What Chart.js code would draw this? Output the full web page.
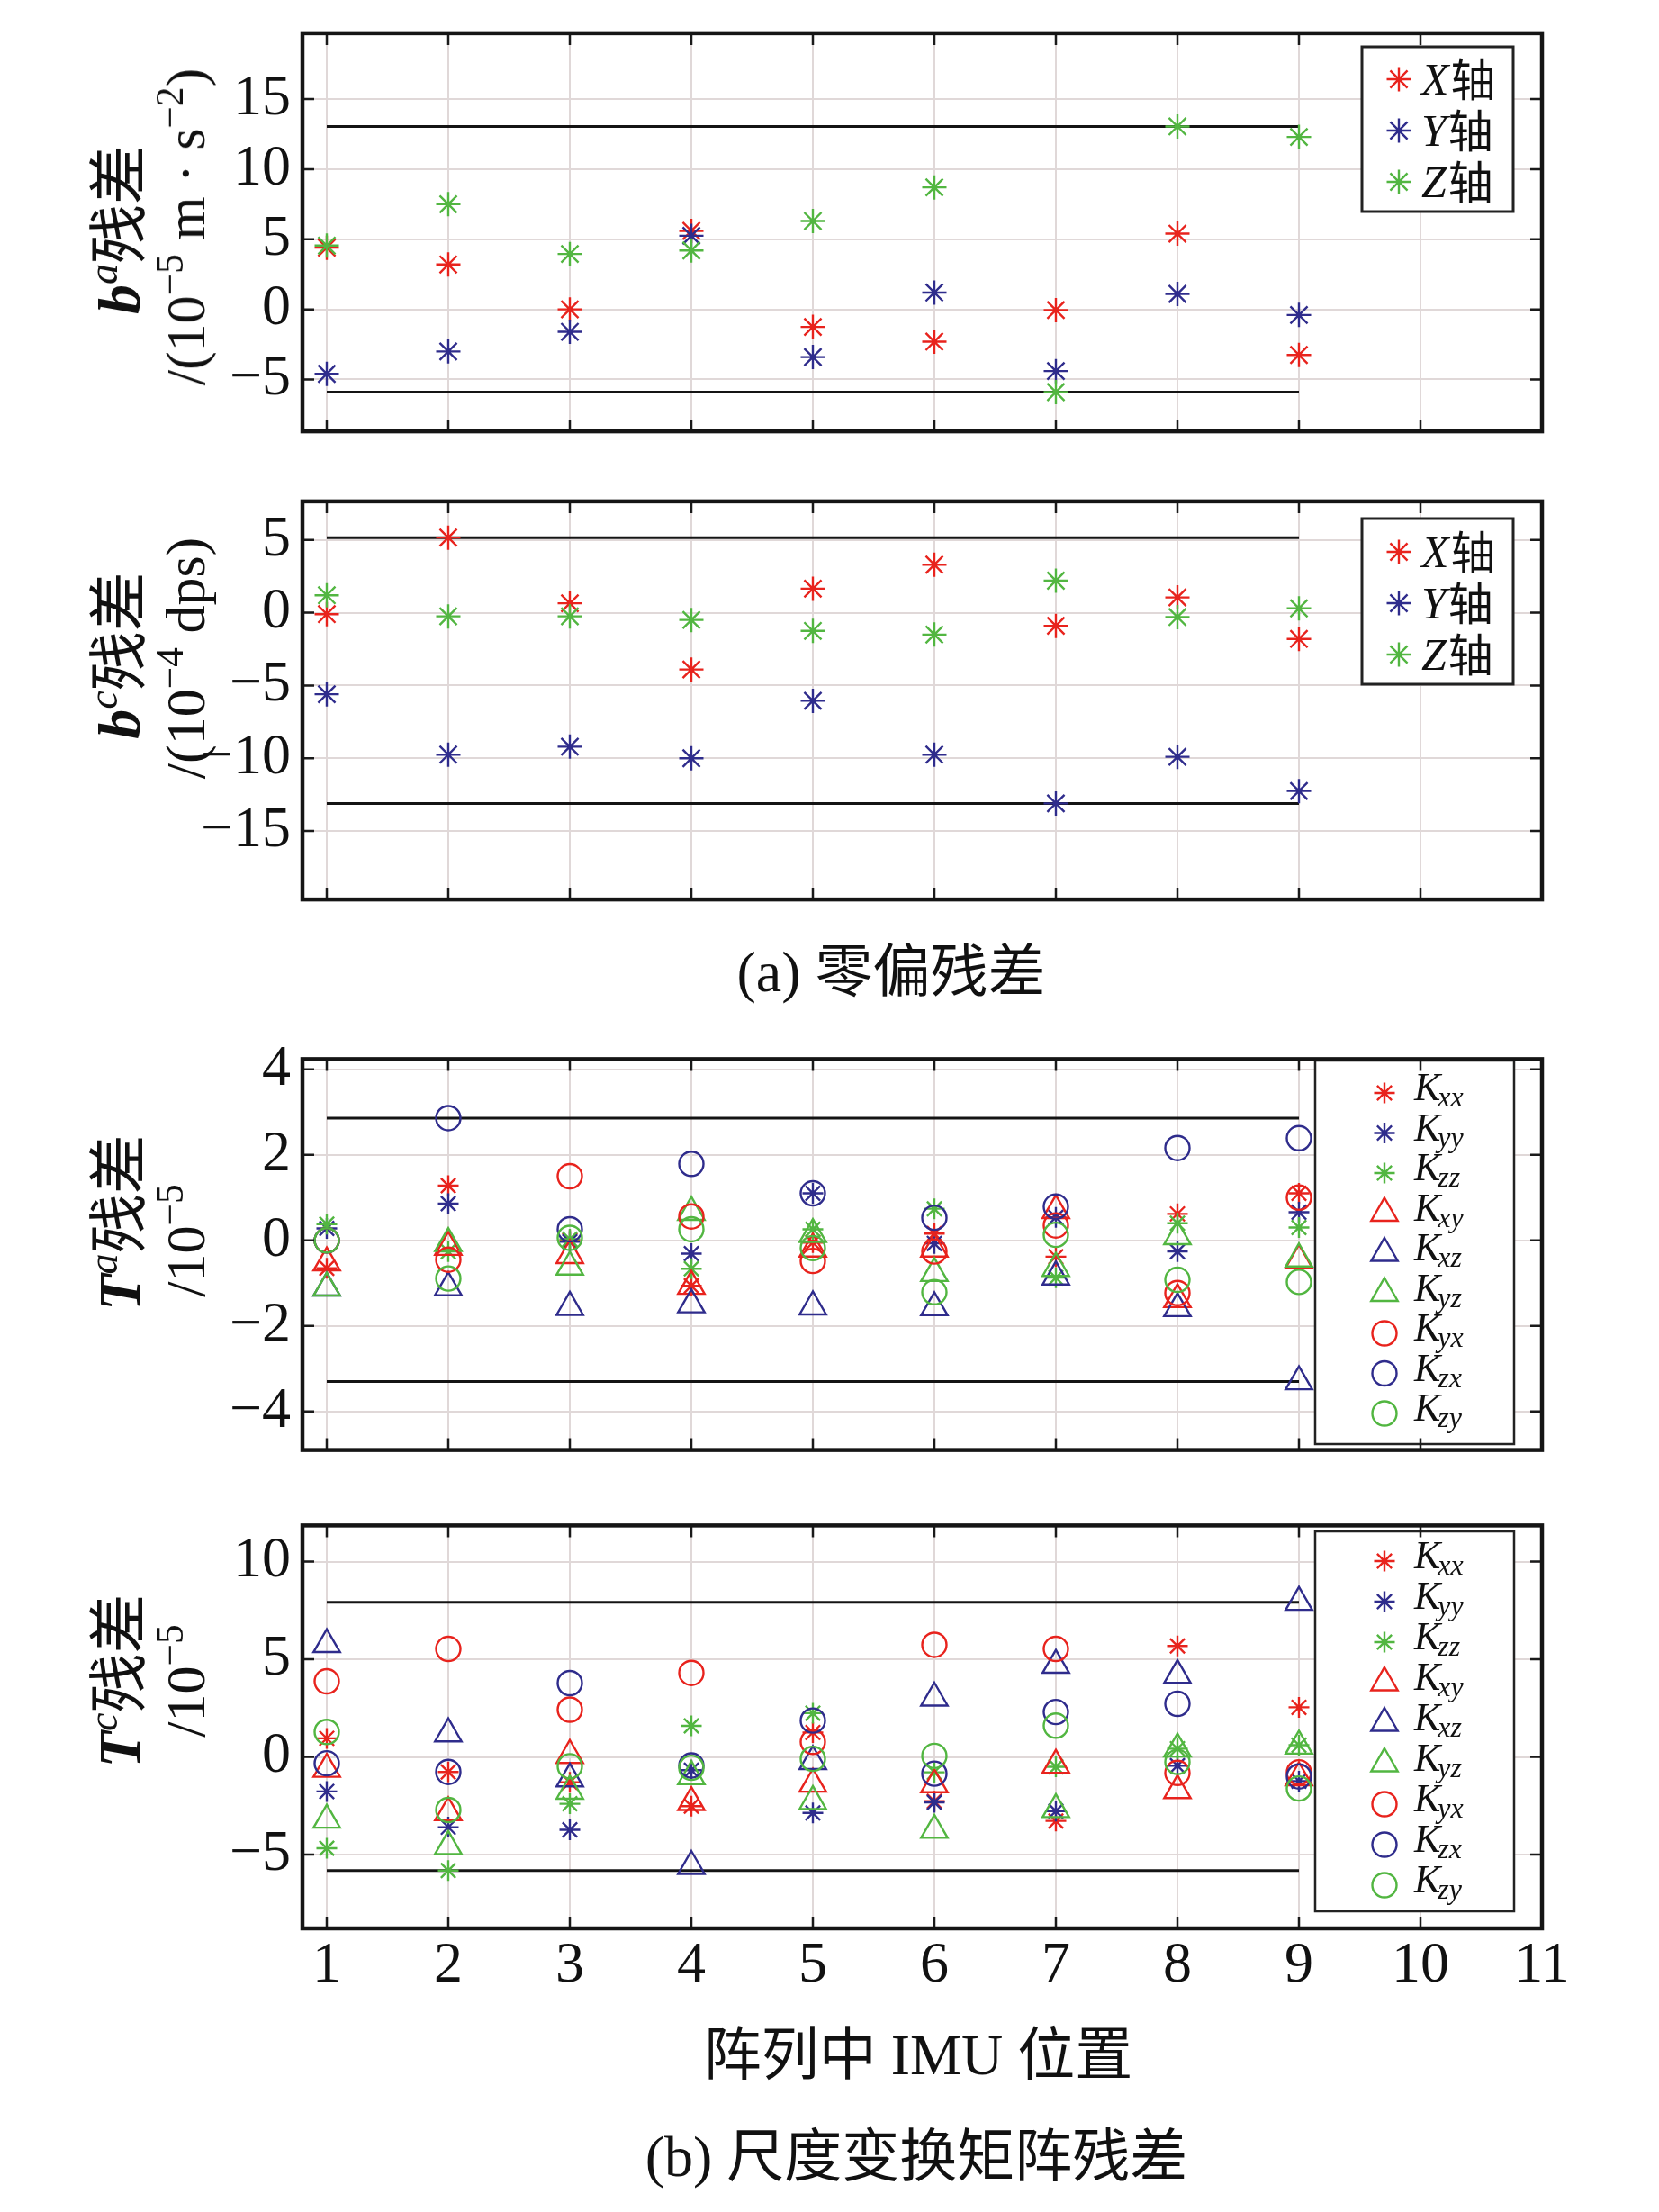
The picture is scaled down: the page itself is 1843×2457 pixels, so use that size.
<!DOCTYPE html>
<html>
<head>
<meta charset="utf-8">
<script src="https://cdn.jsdelivr.net/npm/chart.js@4.4.1/dist/chart.umd.min.js"></script>
<style>
  html, body { margin: 0; padding: 0; background: #fff; }
  body { width: 1843px; height: 2457px; position: relative; overflow: hidden; }
  canvas { position: absolute; left: 0; }
  .ytitle { position: absolute; white-space: nowrap; transform: translate(-50%, -50%) rotate(-90deg);
            font-family: 'Liberation Serif', 'Noto Sans CJK SC', serif; font-size: 62px; color: #111; line-height: 1; }
  .ytitle.big { font-size: 66px; }
  .ytitle sup { font-size: 0.7em; vertical-align: 0.55em; line-height: 0; }
  .caption { position: absolute; white-space: nowrap; transform: translate(-50%, -50%);
             font-family: 'Liberation Serif', 'Noto Sans CJK SC', serif; font-size: 64px; color: #111; line-height: 1; }
</style>
</head>
<body>
<canvas id="c1" width="1843" height="474" style="top:21px"></canvas>
<canvas id="c2" width="1843" height="474" style="top:541px"></canvas>
<canvas id="c3" width="1843" height="473" style="top:1157px"></canvas>
<canvas id="c4" width="1843" height="574" style="top:1675px"></canvas>

<div class="ytitle big" style="left:133px;top:255px"><b><i>b</i></b><sup><i>a</i></sup>残差</div>
<div class="ytitle" style="left:206px;top:252px">/(10<sup>−5</sup> m · s<sup>−2</sup>)</div>
<div class="ytitle big" style="left:133px;top:728px"><b><i>b</i></b><sup><i>c</i></sup>残差</div>
<div class="ytitle" style="left:206px;top:731px">/(10<sup>−4</sup> dps)</div>
<div class="ytitle big" style="left:133px;top:1358px"><b><i>T</i></b><sup><i>a</i></sup>残差</div>
<div class="ytitle" style="left:206px;top:1378px">/10<sup>−5</sup></div>
<div class="ytitle big" style="left:133px;top:1867px"><b><i>T</i></b><sup><i>c</i></sup>残差</div>
<div class="ytitle" style="left:206px;top:1867px">/10<sup>−5</sup></div>

<div class="caption" style="left:990px;top:1080px">(a) 零偏残差</div>
<div class="caption" style="left:1020px;top:2283px">阵列中 IMU 位置</div>
<div class="caption" style="left:1018px;top:2396px">(b) 尺度变换矩阵残差</div>

<script>
// IMU positions in the array and x tick labels
const positions = [1, 2, 3, 4, 5, 6, 7, 8, 9];
const xTicks = [1, 2, 3, 4, 5, 6, 7, 8, 9, 10, 11];

// (a) accelerometer bias residual, 1e-5 m/s^2
const baX = [4.4, 3.2, 0.0, 5.6, -1.25, -2.3, -0.05, 5.4, -3.25];
const baY = [-4.6, -3.0, -1.6, 5.25, -3.4, 1.2, -4.4, 1.1, -0.4];
const baZ = [4.55, 7.5, 3.95, 4.2, 6.3, 8.7, -5.9, 13.05, 12.3];
const baTicks = [-5, 0, 5, 10, 15];

// (a) gyro bias residual, 1e-4 dps
const bcX = [-0.1, 5.16, 0.65, -3.9, 1.65, 3.3, -0.9, 1.05, -1.8];
const bcY = [-5.6, -9.75, -9.2, -10.0, -6.05, -9.75, -13.1, -9.9, -12.25];
const bcZ = [1.2, -0.25, -0.25, -0.5, -1.25, -1.5, 2.2, -0.3, 0.3];
const bcTicks = [-15, -10, -5, 0, 5];

// (b) accelerometer scale matrix residual, 1e-5
const taKxx = [-0.65, 1.28, 0.0, -1.06, -0.05, 0.16, -0.38, 0.62, 1.1];
const taKyy = [0.28, 0.86, -0.03, -0.31, 1.1, -0.07, 0.54, -0.26, 0.66];
const taKzz = [0.38, -0.26, 0.03, -0.66, 0.26, 0.74, -0.87, 0.4, 0.3];
const taKxy = [-0.52, -0.16, -0.35, -1.07, -0.2, -0.2, 0.7, -1.38, -0.46];
const taKxz = [-1.11, -1.1, -1.56, -1.5, -1.55, -1.57, -0.85, -1.59, -3.3];
const taKyz = [-1.11, -0.07, -0.62, 0.66, 0.14, -0.77, -0.65, 0.09, -0.43];
const taKyx = [0.0, -0.45, 1.5, 0.56, -0.48, -0.26, 0.35, -1.23, 1.0];
const taKzx = [0.0, 2.86, 0.26, 1.79, 1.1, 0.53, 0.79, 2.16, 2.39];
const taKzy = [0.0, -0.89, 0.06, 0.26, -0.18, -1.21, 0.13, -0.92, -0.97];
const taTicks = [-4, -2, 0, 2, 4];

// (b) gyro scale matrix residual, 1e-5
const tcKxx = [0.95, -0.77, -1.3, -2.52, 1.25, -2.27, -3.28, 5.68, 2.54];
const tcKyy = [-1.77, -3.6, -3.73, -0.68, -2.87, -2.33, -2.78, -0.45, -1.24];
const tcKzz = [-4.68, -5.82, -2.4, 1.59, 2.24, -0.79, -0.51, 0.42, 0.6];
const tcKxy = [-0.63, -2.85, 0.08, -2.33, -1.39, -1.42, -0.42, -1.72, -1.06];
const tcKxz = [5.76, 1.19, -1.12, -5.6, -0.23, 3.02, 4.7, 4.18, 7.92];
const tcKyz = [-3.23, -4.58, -1.75, -1.0, -2.28, -3.75, -2.69, 0.41, 0.56];
const tcKyx = [3.87, 5.53, 2.42, 4.3, 0.77, 5.74, 5.53, -0.82, -0.79];
const tcKzx = [-0.33, -0.77, 3.78, -0.44, 1.86, -0.86, 2.3, 2.72, -1.0];
const tcKzy = [1.28, -2.72, -0.48, -0.56, -0.1, 0.05, 1.6, -0.26, -1.62];
const tcTicks = [-5, 0, 5, 10];

const axisNames = ['X', 'Y', 'Z'];
const kSubs = ['xx', 'yy', 'zz', 'xy', 'xz', 'yz', 'yx', 'zx', 'zy'];

const RED = '#e8231d', BLUE = '#2f2c8c', GREEN = '#52b641';
const colors = [RED, BLUE, GREEN];
const gridColor = '#e0d8d8';
const serif = '"Liberation Serif", "Times New Roman", serif';

// frame with inward ticks on all four sides, like the original figure
const matlabFrame = {
    id: 'matlabFrame',
    afterDatasetsDraw(chart) {
        const ctx = chart.ctx, a = chart.chartArea;
        const x = chart.scales.x, y = chart.scales.y;
        const tl = 13;
        ctx.save();
        ctx.strokeStyle = '#1a1a1a';
        ctx.lineWidth = 2.5;
        ctx.beginPath();
        x.ticks.forEach(t => {
            const px = x.getPixelForValue(t.value);
            ctx.moveTo(px, a.bottom); ctx.lineTo(px, a.bottom - tl);
            ctx.moveTo(px, a.top); ctx.lineTo(px, a.top + tl);
        });
        y.ticks.forEach(t => {
            const py = y.getPixelForValue(t.value);
            ctx.moveTo(a.left, py); ctx.lineTo(a.left + tl, py);
            ctx.moveTo(a.right, py); ctx.lineTo(a.right - tl, py);
        });
        ctx.stroke();
        ctx.lineWidth = 4.5;
        ctx.strokeStyle = '#151515';
        ctx.strokeRect(a.left, a.top, a.right - a.left, a.bottom - a.top);
        ctx.restore();
    }
};

// boxed legend with italic names and subscripts
const boxLegend = {
    id: 'boxLegend',
    afterDatasetsDraw(chart, args, o) {
        if (!o || !o.box) return;
        const ctx = chart.ctx;
        const [x0, y0, x1, y1] = o.box;
        ctx.save();
        ctx.fillStyle = '#fff';
        ctx.fillRect(x0, y0, x1 - x0, y1 - y0);
        ctx.lineWidth = o.border;
        ctx.strokeStyle = '#222';
        ctx.strokeRect(x0, y0, x1 - x0, y1 - y0);
        const items = chart.data.datasets.filter(d => d.legendMain);
        items.forEach((d, i) => {
            const cy = o.row0 + i * o.rowStep;
            ctx.strokeStyle = d.borderColor;
            ctx.fillStyle = 'rgba(0,0,0,0)';
            ctx.lineWidth = d.pointBorderWidth;
            Chart.helpers.drawPoint(ctx, {
                pointStyle: d.pointStyle, rotation: 0,
                radius: d.pointRadius, borderWidth: d.pointBorderWidth
            }, o.markerX, cy);
            ctx.fillStyle = '#111';
            ctx.textBaseline = 'alphabetic';
            ctx.font = 'italic ' + o.fontSize + 'px ' + serif;
            ctx.fillText(d.legendMain, o.textX, cy + o.baseOff);
            const w = ctx.measureText(d.legendMain).width;
            if (d.legendCjk) {
                ctx.font = o.fontSize + 'px "Noto Sans CJK SC"';
                ctx.fillText(d.legendCjk, o.textX + w + 2, cy + o.baseOff + 2);
            } else if (d.legendSub) {
                ctx.font = 'italic ' + o.subSize + 'px ' + serif;
                ctx.fillText(d.legendSub, o.textX + w - 3, cy + o.baseOff + 7);
            }
        });
        ctx.restore();
    }
};

function toPoints(vals) {
    return positions.map((p, i) => ({ x: p, y: vals[i] }));
}

function boundLines(series) {
    const all = [].concat(...series);
    const hi = Math.max(...all), lo = Math.min(...all);
    const first = positions[0], last = positions[positions.length - 1];
    return [hi, lo].map(v => ({
        data: [{ x: first, y: v }, { x: last, y: v }],
        showLine: true, borderColor: '#141414', borderWidth: 3,
        pointRadius: 0, order: 100
    }));
}

function fmt(v) {
    return v < 0 ? '\u2212' + Math.abs(v) : String(v);
}

function noPad(s) {
    s.paddingTop = 0; s.paddingBottom = 0; s.paddingLeft = 0; s.paddingRight = 0;
}

function makeChart(id, datasets, yMin, yMax, yTicks, showX, legend) {
    const ctx = document.getElementById(id).getContext('2d');
    return new Chart(ctx, {
        type: 'scatter',
        data: { datasets: datasets },
        options: {
            responsive: false,
            animation: false,
            devicePixelRatio: 1,
            layout: { padding: { left: 0, right: 130, top: showX ? 4 : 7, bottom: showX ? 0 : 4 } },
            plugins: {
                legend: { display: false },
                tooltip: { enabled: false },
                boxLegend: legend
            },
            scales: {
                x: {
                    type: 'linear', min: 0.8, max: 11,
                    afterBuildTicks: s => { s.ticks = xTicks.map(v => ({ value: v })); },
                    afterFit: s => { s.height = showX ? 107 : 0; noPad(s); },
                    grid: { color: gridColor, lineWidth: 2, drawTicks: false },
                    border: { display: false },
                    ticks: { display: showX, color: '#111', padding: 4, maxRotation: 0,
                             font: { family: serif, size: 64 }, callback: fmt }
                },
                y: {
                    type: 'linear', min: yMin, max: yMax,
                    afterBuildTicks: s => { s.ticks = yTicks.map(v => ({ value: v })); },
                    afterFit: s => { s.width = 336; noPad(s); },
                    grid: { color: gridColor, lineWidth: 2, drawTicks: false },
                    border: { display: false },
                    ticks: { color: '#111', padding: 13,
                             font: { family: serif, size: 64 }, callback: fmt }
                }
            }
        },
        plugins: [boxLegend, matlabFrame]
    });
}

function axisSets(series) {
    return series.map((vals, i) => ({
        data: toPoints(vals),
        pointStyle: 'star', pointRadius: 13.5, pointBorderWidth: 2.4,
        borderColor: colors[i], pointBackgroundColor: 'rgba(0,0,0,0)',
        legendMain: axisNames[i], legendCjk: '轴', order: -i
    }));
}

function kSets(series) {
    const styles = ['star', 'triangle', 'circle'];
    const radii = [11.5, 17, 13.5];
    return series.map((vals, i) => {
        const g = Math.floor(i / 3);
        return {
            data: toPoints(vals),
            pointStyle: styles[g], pointRadius: radii[g], pointBorderWidth: 2.4,
            borderColor: colors[i % 3], pointBackgroundColor: 'rgba(0,0,0,0)',
            legendMain: 'K', legendSub: kSubs[i], order: -i
        };
    });
}

// (a) top: accelerometer bias
const baSeries = [baX, baY, baZ];
makeChart('c1', axisSets(baSeries).concat(boundLines(baSeries)), -8.7, 19.7, baTicks, false,
    { box: [1513, 31, 1681, 214], border: 3, row0: 67, rowStep: 57,
      markerX: 1554, textX: 1579, fontSize: 50, baseOff: 17 });

// (a) bottom: gyro bias
const bcSeries = [bcX, bcY, bcZ];
makeChart('c2', axisSets(bcSeries).concat(boundLines(bcSeries)), -19.7, 7.65, bcTicks, false,
    { box: [1513, 35, 1681, 219], border: 3, row0: 72, rowStep: 57,
      markerX: 1554, textX: 1579, fontSize: 50, baseOff: 17 });

// (b) top: accelerometer scale matrix
const taSeries = [taKxx, taKyy, taKzz, taKxy, taKxz, taKyz, taKyx, taKzx, taKzy];
makeChart('c3', kSets(taSeries).concat(boundLines(taSeries)), -4.9, 4.24, taTicks, false,
    { box: [1461, 21, 1682, 447], border: 2.5, row0: 57, rowStep: 44.5,
      markerX: 1538, textX: 1571, fontSize: 44, subSize: 32, baseOff: 8 });

// (b) bottom: gyro scale matrix
const tcSeries = [tcKxx, tcKyy, tcKzz, tcKxy, tcKxz, tcKyz, tcKyx, tcKzx, tcKzy];
makeChart('c4', kSets(tcSeries).concat(boundLines(tcSeries)), -8.78, 11.85, tcTicks, true,
    { box: [1461, 26, 1682, 448], border: 2.5, row0: 59, rowStep: 45,
      markerX: 1538, textX: 1571, fontSize: 44, subSize: 32, baseOff: 8 });
</script>
</body>
</html>
